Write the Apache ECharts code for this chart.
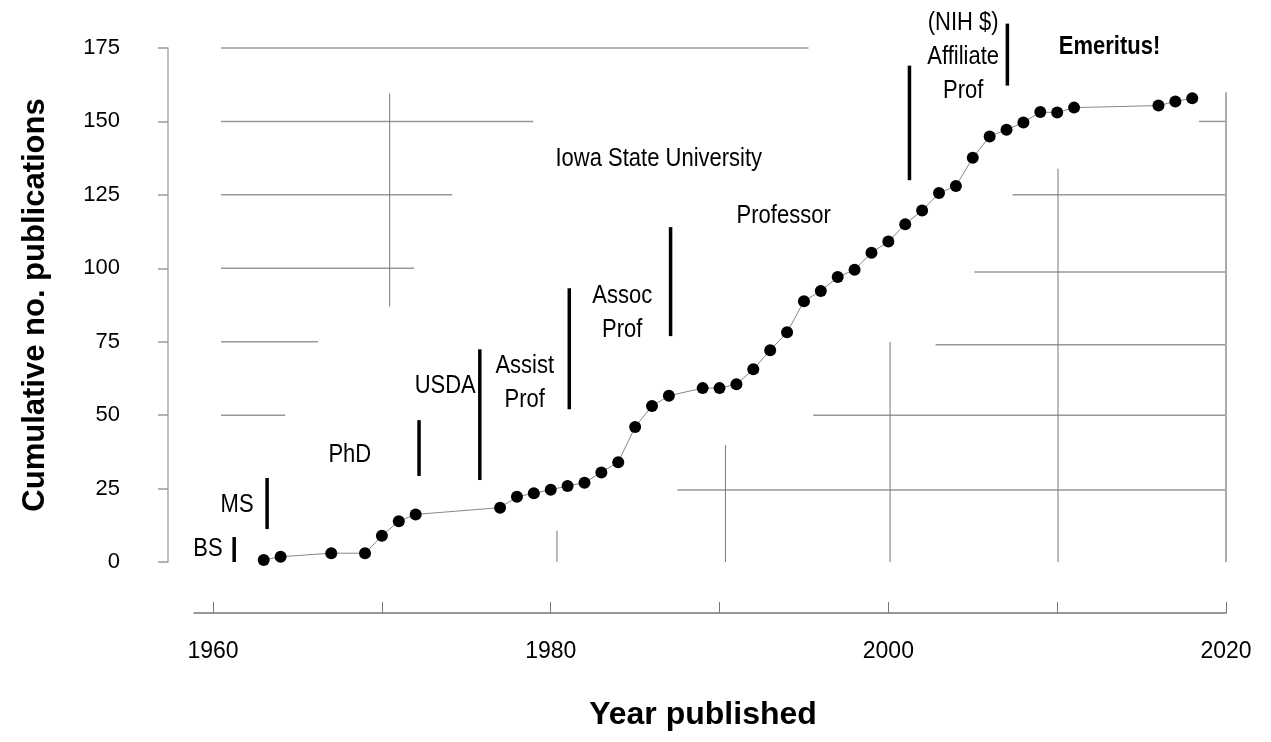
<!DOCTYPE html>
<html><head><meta charset="utf-8">
<script src="https://cdn.jsdelivr.net/npm/echarts@6/dist/echarts.min.js"></script>
<style>html,body{margin:0;padding:0;background:#fff}#chart{width:1271px;height:742px}</style>
</head><body><div id="chart"></div>
<script>
// ---- data ----
const years = [1963,1964,1967,1969,1970,1971,1972,1977,1978,1979,1980,1981,1982,1983,1984,1985,1986,1987,1989,1990,1991,1992,1993,1994,1995,1996,1997,1998,1999,2000,2001,2002,2003,2004,2005,2006,2007,2008,2009,2010,2011,2016,2017,2018];
const pubs = [0.7,1.8,3,3,8.9,13.9,16.2,18.5,22.2,23.4,24.6,25.9,27,30.5,34,46,53.1,56.6,59.2,59.2,60.5,65.6,72.1,78.2,88.8,92.3,97,99.5,105.3,109.1,115,119.7,125.6,128,137.6,144.9,147.2,149.6,153.2,153,154.7,155.4,156.8,157.9];

const xTickYears = [1960,1970,1980,1990,2000,2010,2020];
const xLabelYears = [1960,1980,2000,2020];

// career transition bars: year, low value, high value
const barYears = [1961.25,1963.2,1972.2,1975.8,1981.1,1987.1,2001.25,2007.05];
const barLow   = [0,11.2,29.3,27.9,52,76.9,130,162.2];
const barHigh  = [8.5,28.6,48.3,72.4,93.2,114,169,183.3];

// annotations
const noteTexts  = ['BS','MS','PhD','USDA','Assist\nProf','Assoc\nProf','Iowa State University','Professor','(NIH $)\nAffiliate\nProf','Emeritus!'];
const noteYears  = [1959.7,1961.42,1968.1,1973.75,1978.46,1984.24,1986.4,1993.8,2004.43,2013.1];
const noteValues = [4.6,19.4,36.4,59.9,61.1,84.8,137.3,118,172,175.3];

// background line fragments
const hLineValues = [175,150,150,125,125,100,98.7,75,74,50,50,24.5];
const hLineFrom   = [1960.47,1960.47,2018.4,1960.47,2007.36,1960.47,2005.09,1960.47,2002.8,1960.47,1995.55,1987.5];
const hLineTo     = [1995.27,1978.97,2020,1974.17,2020,1971.9,2020,1966.22,2020,1964.27,2020,2020];
const vLineYears  = [1970.46,1980.37,1990.35,2000.1,2010.05];
const vLineFrom   = [87,0,0,0,0];
const vLineTo     = [159.5,10.7,39.8,74.9,133.9];
const borderYear = [2020], borderFrom = [0], borderTo = [159.9];

// ---- chart ----
const FONT = "'Liberation Sans', Arial, sans-serif";
const boldNotes = {'Emeritus!': true};

function segRenderer(color, width) {
  return function (params, api) {
    const p1 = api.coord([api.value(0), api.value(1)]);
    const p2 = api.coord([api.value(2), api.value(3)]);
    return {type: 'line', silent: true,
      shape: {x1: p1[0], y1: p1[1], x2: p2[0], y2: p2[1]},
      style: {stroke: color, lineWidth: width}};
  };
}

const hData = hLineValues.map((v, i) => [hLineFrom[i], v, hLineTo[i], v]);
const vData = vLineYears.map((x, i) => [x, vLineFrom[i], x, vLineTo[i]]);
const bData = borderYear.map((x, i) => [x, borderFrom[i], x, borderTo[i]]);
const barData = barYears.map((x, i) => [x, barLow[i], x, barHigh[i]]);
const noteData = noteYears.map((x, i) => [x, noteValues[i]]);

const chart = echarts.init(document.getElementById('chart'), null, {renderer: 'canvas'});
chart.setOption({
  animation: false,
  backgroundColor: '#fff',
  grid: {left: 194, right: 45, top: 48, bottom: 180, containLabel: false},
  xAxis: {
    type: 'value', min: 1958.87, max: 2020, offset: 51,
    axisLine: {show: true, onZero: false, lineStyle: {color: '#777', width: 1.5}},
    axisTick: {show: true, inside: true, length: 11, customValues: xTickYears, lineStyle: {color: '#777', width: 1}},
    axisLabel: {customValues: xLabelYears, margin: 27, fontSize: 23, color: '#000', fontFamily: FONT,
      formatter: v => String(Math.round(v))},
    splitLine: {show: false},
    name: 'Year published', nameLocation: 'middle', nameGap: 86,
    nameTextStyle: {fontSize: 32, fontWeight: 'bold', color: '#000', fontFamily: FONT, padding: [0, 14, 0, 0]}
  },
  yAxis: {
    type: 'value', min: 0, max: 175, interval: 25, position: 'left', offset: 26,
    axisLine: {show: true, onZero: false, lineStyle: {color: '#aaa', width: 1.5}},
    axisTick: {show: true, length: 10, lineStyle: {color: '#999', width: 1.5}},
    axisLabel: {margin: 48, fontSize: 22, color: '#000', fontFamily: FONT},
    splitLine: {show: false},
    name: 'Cumulative no. publications', nameLocation: 'middle', nameGap: 117, nameRotate: 90,
    nameTextStyle: {fontSize: 31, fontWeight: 'bold', color: '#000', fontFamily: FONT}
  },
  series: [
    {type: 'custom', name: 'hgrid', renderItem: segRenderer('#999', 1.5), data: hData,
      encode: {x: [0, 2], y: [1, 3]}, silent: true, z: 1},
    {type: 'custom', name: 'vgrid', renderItem: segRenderer('#777', 1), data: vData,
      encode: {x: [0, 2], y: [1, 3]}, silent: true, z: 1},
    {type: 'custom', name: 'border', renderItem: segRenderer('#aaa', 2), data: bData,
      encode: {x: [0, 2], y: [1, 3]}, silent: true, z: 1},
    {type: 'custom', name: 'bars', renderItem: segRenderer('#000', 3.5), data: barData,
      encode: {x: [0, 2], y: [1, 3]}, silent: true, clip: false, z: 3},
    {type: 'custom', name: 'notes', clip: false, silent: true, z: 4,
      encode: {x: 0, y: 1}, data: noteData,
      renderItem: function (params, api) {
        const p = api.coord([api.value(0), api.value(1)]);
        const t = noteTexts[params.dataIndex];
        return {type: 'text', x: p[0], y: p[1], scaleY: 1.2, silent: true,
          style: {text: t, fill: '#000', fontSize: 22, fontFamily: FONT,
            fontWeight: boldNotes[t] ? 'bold' : 'normal',
            align: 'center', verticalAlign: 'middle', lineHeight: 28}};
      }},
    {type: 'line', name: 'pubs', data: years.map((y, i) => [y, pubs[i]]),
      symbol: 'circle', symbolSize: 12, showSymbol: true,
      itemStyle: {color: '#000'}, lineStyle: {color: '#888', width: 1}, z: 5}
  ]
});
</script></body></html>
